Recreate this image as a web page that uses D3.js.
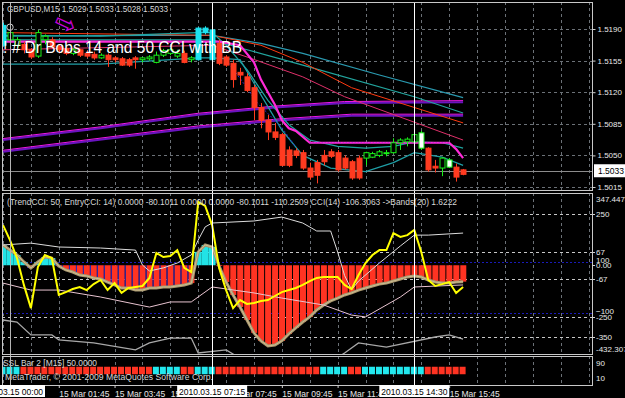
<!DOCTYPE html>
<html><head><meta charset="utf-8">
<script src="https://cdn.jsdelivr.net/npm/d3@7"></script>
<style>
html,body{margin:0;padding:0;background:#000;overflow:hidden;}
svg{display:block;}
text{font-family:"Liberation Sans",Arial,sans-serif;}
</style></head><body>
<svg id="c" width="625" height="398"></svg>
<script>
// ---------------- DATA ----------------
const bars = d3.range(-1, 66); // bar index, 0 = 2010.03.15 00:00, M15
const open  = [1.5172,1.5178,1.5172,1.5173,1.5167,1.5160,1.5178,1.5178,1.5171,1.5168,1.5163,1.5167,1.5163,1.5162,1.5158,1.5161,1.5158,1.5157,1.5156,1.5158,1.5156,1.5157,1.5153,1.5161,1.5163,1.5160,1.5163,1.5156,1.5156,1.5186,1.5189,1.5174,1.5159,1.5152,1.5142,1.5137,1.5125,1.5103,1.5089,1.5076,1.5073,1.5056,1.5055,1.5053,1.5036,1.5042,1.5050,1.5054,1.5053,1.5047,1.5043,1.5047,1.5047,1.5048,1.5050,1.5052,1.5053,1.5064,1.5065,1.5065,1.5058,1.5058,1.5038,1.5036,1.5037,1.5037,1.5034];
const high  = [1.5197,1.5191,1.5181,1.5176,1.5169,1.5189,1.5184,1.5181,1.5173,1.5170,1.5169,1.5168,1.5166,1.5165,1.5163,1.5163,1.5160,1.5159,1.5158,1.5160,1.5159,1.5161,1.5165,1.5168,1.5169,1.5167,1.5166,1.5160,1.5192,1.5193,1.5191,1.5178,1.5161,1.5156,1.5147,1.5141,1.5128,1.5108,1.5095,1.5086,1.5075,1.5060,1.5058,1.5056,1.5042,1.5045,1.5056,1.5057,1.5056,1.5050,1.5045,1.5050,1.5054,1.5054,1.5056,1.5056,1.5069,1.5069,1.5070,1.5075,1.5077,1.5059,1.5045,1.5048,1.5047,1.5041,1.5035];
const low   = [1.5171,1.5173,1.5169,1.5163,1.5157,1.5158,1.5173,1.5168,1.5163,1.5161,1.5161,1.5159,1.5158,1.5156,1.5157,1.5148,1.5153,1.5149,1.5148,1.5146,1.5153,1.5155,1.5152,1.5159,1.5161,1.5158,1.5152,1.5153,1.5155,1.5184,1.5153,1.5150,1.5148,1.5125,1.5128,1.5120,1.5089,1.5080,1.5067,1.5067,1.5038,1.5037,1.5047,1.5034,1.5023,1.5019,1.5039,1.5047,1.5032,1.5034,1.5023,1.5023,1.5039,1.5047,1.5048,1.5049,1.5052,1.5056,1.5060,1.5063,1.5056,1.5032,1.5031,1.5027,1.5036,1.5021,1.5028];
const close = [1.5194,1.5186,1.5178,1.5167,1.5159,1.5186,1.5182,1.5170,1.5167,1.5163,1.5167,1.5161,1.5160,1.5158,1.5161,1.5156,1.5156,1.5150,1.5150,1.5156,1.5158,1.5159,1.5161,1.5166,1.5167,1.5163,1.5153,1.5158,1.5191,1.5191,1.5156,1.5152,1.5150,1.5134,1.5139,1.5122,1.5103,1.5089,1.5076,1.5070,1.5039,1.5039,1.5050,1.5036,1.5026,1.5028,1.5043,1.5049,1.5034,1.5036,1.5025,1.5025,1.5053,1.5052,1.5054,1.5053,1.5064,1.5067,1.5068,1.5073,1.5075,1.5034,1.5036,1.5047,1.5045,1.5026,1.5029];
const cyanBars  = [-1, 27, 28, 29];
const whiteBars = [59, 63];

// price-chart lines: [barIndex, price]
const maTealA  = [[-1,1.5182],[20,1.5183],[29,1.5183],[36,1.5174],[42,1.5163],[53,1.5139],[65,1.5114]];
const maTealB  = [[-1,1.5178],[20,1.5178],[29,1.5178],[34,1.5167],[42,1.5150],[58,1.5115],[65,1.5097]];
const maRedC   = [[-1,1.5186],[29,1.5183],[36,1.5172],[42,1.5153],[49,1.5125],[65,1.5086]];
const maRedD   = [[-1,1.5167],[29,1.5172],[34,1.5159],[42,1.5137],[48,1.5115],[65,1.5067]];
const bbUpper  = [[-1,1.5183],[13,1.5182],[27,1.5186],[29,1.5186],[31,1.5172],[34,1.5145],[37,1.5111],[40,1.5084],[43,1.5067],[47,1.5060],[51,1.5058],[55,1.5060],[58,1.5065],[62,1.5064],[65,1.5058]];
const bbLower  = [[-1,1.5151],[13,1.5151],[27,1.5158],[29,1.5158],[33,1.5156],[36,1.5117],[39,1.5078],[42,1.5050],[46,1.5036],[51,1.5032],[55,1.5042],[58,1.5053],[62,1.5048],[65,1.5039]];
const stepLine = [[-1,1.5176],[30,1.5176],[33,1.5172],[35,1.5153],[36,1.5134],[37,1.5120],[38,1.5106],[39,1.5089],[40,1.5080],[41,1.5077],[43,1.5064],[63,1.5064],[64,1.5057],[65,1.5047]];
const slowMA1  = [[-1,1.5067],[13,1.5080],[27,1.5095],[38,1.5103],[48,1.5108],[65,1.5109]];
const slowMA2  = [[-1,1.5054],[27,1.5081],[39,1.5089],[49,1.5094],[65,1.5094]];
const dotLine  = [[31,1.5156],[33.5,1.5130],[35.5,1.5108],[39,1.5081],[41,1.5059]];

// CCI window
const trendCCI = [99,74,50,16,-13,16,40,35,-4,-23,-33,-48,-52,-62,-67,-82,-96,-111,-111,-121,-121,-111,-111,-106,-106,-101,-96,-87,65,99,89,-4,-82,-145,-204,-267,-330,-369,-394,-389,-369,-335,-306,-277,-252,-218,-194,-174,-160,-145,-135,-121,-111,-101,-92,-87,-77,-67,-57,-52,-57,-72,-82,-87,-87,-82,-80];
const entryCCI = [196,123,35,-97,-209,-9,50,35,-145,-131,-116,-106,-121,-92,-72,-121,-87,-135,-111,-106,-101,-62,60,40,45,74,-13,-33,309,289,196,-13,-121,-209,-170,-189,-184,-174,-170,-150,-131,-121,-111,-96,-77,-62,-57,-57,-57,-96,-116,-48,11,50,74,74,157,138,147,172,65,-72,-101,-92,-82,-135,-106];
const bandUp   = [[-1,99],[3,108],[7,89],[13,84],[18,74],[19,1],[20,-28],[22,-13],[24,11],[26,50],[27,123],[28,187],[29,206],[35,216],[39,235],[42,206],[44,167],[46,167],[47,65],[48,-50],[49,-120],[50,-77],[53,11],[56,94],[58,147],[60,147],[65,157]];
const bandMid  = [[-1,-87],[3,-121],[7,-121],[13,-155],[20,-204],[23,-179],[26,-179],[29,-106],[35,-135],[39,-160],[45,-194],[49,-243],[51,-252],[56,-155],[58,-106],[65,-96]];
const bandLow  = [[-1,-267],[1,-277],[3,-340],[6,-340],[7,-364],[12,-379],[18,-413],[20,-379],[23,-355],[26,-355],[27,-428],[31,-413],[32,-433],[36,-520],[44,-520],[48,-428],[50,-379],[54,-399],[61,-350],[63,-340],[65,-360]];
const cciLevels = [250, 67, -67, -250, -350];
const cci2Levels = [100, -100];
const cciTickValues = [347.4474, 250, 67, 0, -67, -250, -350, -432.3077];
const cciTickText   = ['347.4474','250','67','0.00','-67','-250','-350','-432.3077'];

// SSL bar: 1 = up (cyan), 0 = down (red)
const sslState = [1,1,1,0,0,0,0,0,0,0,0,0,0,0,0,0,0,0,0,0,0,0,1,1,1,1,0,0,1,1,1,0,0,0,0,0,0,0,0,0,0,0,0,0,0,0,1,1,1,1,0,0,1,1,1,1,1,1,1,1,1,0,0,0,0,0,0];
const sslTicks = [90, 10];

// axes
const priceTicks = [1.5190, 1.5155, 1.5120, 1.5085, 1.5050, 1.5015];
const lastPrice = 1.5033;
const timeTickBars   = [7, 15, 23, 31, 39, 47, 55, 63];
const timeTickLabels = ['15 Mar 01:45','15 Mar 03:45','15 Mar 05:45','15 Mar 07:45','15 Mar 09:45','15 Mar 11:45','15 Mar 13:45','15 Mar 15:45'];
const vLineBars   = [0, 29, 58];
const vLineLabels = ['2010.03.15 00:00','2010.03.15 07:15','2010.03.15 14:30'];
const vLineColors = ['#b4b4b4','#ffffff','#ffffff'];
const gridBars = d3.range(-1, 84, 4);

// ---------------- LAYOUT ----------------
const L = 2, R = 592;
const P = {main:[2,190], cci:[193,354], ssl:[356,385]};
const x  = d3.scaleLinear().domain([0,58]).range([10,414.3]);
const yP = d3.scaleLinear().domain([1.5190,1.5015]).range([29,187]);
const yC = d3.scaleLinear().domain([250,-350]).range([214,337]);
const yC2= d3.scaleLinear().domain([100,-100]).range([262,313]);
const yS = d3.scaleLinear().domain([90,10]).range([363,378]);

const svg = d3.select('#c');
svg.append('rect').attr('width',625).attr('height',398).attr('fill','#000');
const defs = svg.append('defs');
Object.entries(P).forEach(([k,[a,b]])=>{
  defs.append('clipPath').attr('id','clip-'+k).append('rect')
    .attr('x',L).attr('y',a).attr('width',R-L).attr('height',b-a);
});
const gMain = svg.append('g').attr('clip-path','url(#clip-main)');
const gCci  = svg.append('g').attr('clip-path','url(#clip-cci)');
const gSsl  = svg.append('g').attr('clip-path','url(#clip-ssl)');

const gridCol = '#6b7177';
[[gMain,P.main],[gCci,P.cci],[gSsl,P.ssl]].forEach(([g,[a,b]])=>{
  g.selectAll(null).data(gridBars).join('line')
    .attr('x1',d=>Math.round(x(d))+0.5).attr('x2',d=>Math.round(x(d))+0.5)
    .attr('y1',a).attr('y2',b).attr('stroke',gridCol).attr('stroke-dasharray','3,3');
});
gMain.selectAll(null).data(priceTicks).join('line')
  .attr('x1',L).attr('x2',R).attr('y1',d=>Math.round(yP(d))+0.5).attr('y2',d=>Math.round(yP(d))+0.5)
  .attr('stroke',gridCol).attr('stroke-dasharray','3,3');
gMain.append('line').attr('x1',L).attr('x2',R)
  .attr('y1',Math.round(yP(lastPrice))+0.5).attr('y2',Math.round(yP(lastPrice))+0.5)
  .attr('stroke','#8c8c8c');

// ---- main chart lines
const lp = d3.line().x(d=>x(d[0])).y(d=>yP(d[1]));
function pl(data,color,w,extra){
  const p = gMain.append('path').attr('d',lp(data)).attr('fill','none')
    .attr('stroke',color).attr('stroke-width',w);
  if(extra) extra(p);
  return p;
}
pl(slowMA1,'#6a14c0',2);
pl(slowMA1,'#ee18e8',1,p=>p.attr('transform','translate(0,-1.5)'));
pl(slowMA2,'#6a14c0',2);
pl(slowMA2,'#ee18e8',1,p=>p.attr('transform','translate(0,-1.5)'));
pl(maTealA,'#2a9ab0',1.2);
pl(maTealB,'#22a59e',1.2);
pl(maRedC,'#ff3a10',1);
pl(maRedD,'#e0306a',1);
pl(bbUpper,'#1fa5a0',1.2);
pl(bbLower,'#1f9fa6',1.2);
pl(dotLine,'#2a2ad0',1,p=>p.attr('stroke-dasharray','2,2'));
pl(stepLine,'#ff2ad8',2.2);
pl(stepLine.filter(d=>d[0]>=43 && d[0]<=63),'#9a30e0',1,p=>p.attr('stroke-dasharray','1,2'));

// ---- candles
const cData = bars.map((b,k)=>({b,o:open[k],h:high[k],l:low[k],c:close[k]}));
function cColor(d){
  if(cyanBars.includes(d.b)) return '#1ce3f0';
  if(d.c>=d.o) return '#19f019';
  return '#ff3b20';
}
const cg = gMain.append('g');
cg.selectAll('line').data(cData).join('line')
  .attr('x1',d=>Math.round(x(d.b))+0.5).attr('x2',d=>Math.round(x(d.b))+0.5)
  .attr('y1',d=>yP(d.h)).attr('y2',d=>yP(d.l))
  .attr('stroke',cColor);
cg.selectAll('rect').data(cData).join('rect')
  .attr('x',d=>Math.round(x(d.b))-2)
  .attr('y',d=>Math.min(yP(d.o),yP(d.c)))
  .attr('width',5)
  .attr('height',d=>Math.max(1,Math.abs(yP(d.o)-yP(d.c))))
  .attr('fill',d=>{
    if(cyanBars.includes(d.b)) return '#1ce3f0';
    if(whiteBars.includes(d.b)) return '#ffffff';
    return d.c>=d.o ? '#000' : '#ff3b20';
  })
  .attr('stroke',d=> whiteBars.includes(d.b) ? '#19f019' : cColor(d))
  .attr('stroke-width',1);

// symbols
gMain.append('circle').attr('cx',x(0)).attr('cy',yP(1.5192)).attr('r',3.2)
  .attr('fill','none').attr('stroke','#d0d0d0').attr('stroke-width',1);
gMain.append('text').attr('x',54).attr('y',32).attr('font-size',26)
  .attr('font-family','DejaVu Sans').attr('fill','#c400d8')
  .attr('transform','rotate(25,65,24)').text('\u21E8');

// header texts main
svg.append('text').attr('x',7).attr('y',11.5).attr('font-size',8.5).attr('fill','#d8d8d8')
  .attr('textLength',161).attr('lengthAdjust','spacingAndGlyphs')
  .text('GBPUSD,M15  1.5029 1.5033 1.5028 1.5033');
svg.append('text').attr('x',3).attr('y',53).attr('font-size',16).attr('fill','#ffffff')
  .attr('textLength',239).attr('lengthAdjust','spacingAndGlyphs')
  .text('! # Dr Bobs 14 and 50 CCI with BB');

// ---- CCI window
gCci.selectAll(null).data(cciLevels).join('line')
  .attr('x1',L).attr('x2',R).attr('y1',d=>Math.round(yC(d))+0.5).attr('y2',d=>Math.round(yC(d))+0.5)
  .attr('stroke','#c8c8c8').attr('stroke-dasharray','3,3');
gCci.selectAll(null).data(cci2Levels).join('line')
  .attr('x1',L).attr('x2',R).attr('y1',d=>Math.round(yC2(d))+0.5).attr('y2',d=>Math.round(yC2(d))+0.5)
  .attr('stroke','#1a1ab8').attr('stroke-dasharray','2,2');
const hData = bars.map((b,k)=>({b,v:trendCCI[k]}));
gCci.selectAll('rect.h').data(hData).join('rect')
  .attr('x',d=> d.v>0 ? x(d.b)-3.5 : x(d.b)-2.8)
  .attr('width',d=> d.v>0 ? 7 : 6)
  .attr('y',d=>Math.min(yC(0),yC(d.v)))
  .attr('height',d=>Math.abs(yC(d.v)-yC(0)))
  .attr('fill',d=> d.v>0 ? '#22e3e6' : '#ff3322');
gCci.selectAll('line.sep').data(hData.filter(d=>d.v<0 && d.b<30)).join('line')
  .attr('x1',d=>x(d.b)-3.3).attr('x2',d=>x(d.b)-3.3)
  .attr('y1',yC(0)).attr('y2',d=>yC(d.v)).attr('stroke','#2b2bc8').attr('stroke-width',1);
const lc = d3.line().x((d,k)=>x(bars[k])).y(d=>yC(d));
gCci.append('path').attr('d',lc(trendCCI)).attr('fill','none').attr('stroke','#a8976e').attr('stroke-width',3);
gCci.append('path').attr('d',lc(trendCCI)).attr('fill','none').attr('stroke','#cdbd92').attr('stroke-width',1);
const lk = d3.line().x(d=>x(d[0])).y(d=>yC(d[1]));
gCci.append('path').attr('d',lk(bandUp)).attr('fill','none').attr('stroke','#dcdcdc').attr('stroke-width',1);
gCci.append('path').attr('d',lk(bandMid)).attr('fill','none').attr('stroke','#e8c4d0').attr('stroke-width',1);
gCci.append('path').attr('d',lk(bandLow)).attr('fill','none').attr('stroke','#a8a8a8').attr('stroke-width',1.3);
gCci.append('path').attr('d',lc(entryCCI)).attr('fill','none').attr('stroke','#ffff00').attr('stroke-width',2);
svg.append('text').attr('x',7).attr('y',205).attr('font-size',8.5).attr('fill','#d8d8d8')
  .attr('textLength',450).attr('lengthAdjust','spacingAndGlyphs')
  .text('(TrendCCI: 50, EntryCCI: 14)  0.0000 -80.1011 0.0000 0.0000 -80.1011 -110.2509  CCI(14) -106.3063  ->Bands(20) 1.6222');

// ---- SSL window
const sData = bars.map((b,k)=>({b,s:sslState[k]}));
gSsl.selectAll('rect').data(sData).join('rect')
  .attr('x',d=>x(d.b)-3.5).attr('width',6)
  .attr('y',yS(70)).attr('height',yS(30)-yS(70))
  .attr('fill',d=>d.s ? '#22e8ee' : '#ff3322');
svg.append('text').attr('x',3).attr('y',366).attr('font-size',8.5).attr('fill','#d8d8d8')
  .attr('textLength',94).attr('lengthAdjust','spacingAndGlyphs')
  .text('SSL Bar 2 [M15] 50.0000');
svg.append('text').attr('x',5).attr('y',380).attr('font-size',8.5).attr('fill','#d8d8d8')
  .attr('textLength',208).attr('lengthAdjust','spacingAndGlyphs')
  .text('MetaTrader, \u00A9 2001-2009 MetaQuotes Software Corp.');

// ---- vertical line objects
svg.selectAll('line.vl').data(vLineBars).join('line')
  .attr('x1',d=>Math.round(x(d))+0.5).attr('x2',d=>Math.round(x(d))+0.5)
  .attr('y1',P.main[0]).attr('y2',P.ssl[1])
  .attr('stroke',(d,k)=>vLineColors[k]).attr('stroke-width',1);

// ---- panel frames
Object.values(P).forEach(([a,b])=>{
  svg.append('rect').attr('x',L+0.5).attr('y',a+0.5).attr('width',R-L).attr('height',b-a)
    .attr('fill','none').attr('stroke','#c8c8c8').attr('stroke-width',1);
});

// ---- right axes
const axP = d3.axisRight(yP).tickValues(priceTicks).tickFormat(d3.format('.4f')).tickSize(3);
const gA = svg.append('g').attr('transform',`translate(${R+0.5},0)`).call(axP);
gA.select('.domain').remove();
gA.selectAll('line').attr('stroke','#d0d0d0');
gA.selectAll('text').attr('fill','#e8e8e8').attr('font-size',8).attr('x',5).attr('font-family','"Liberation Sans",Arial,sans-serif');
svg.append('rect').attr('x',R+2).attr('y',yP(lastPrice)-6.5).attr('width',31).attr('height',13).attr('fill','#ffffff');
svg.append('text').attr('x',R+6).attr('y',yP(lastPrice)+3).attr('font-size',8.5).attr('fill','#000').text(d3.format('.4f')(lastPrice));

const gCL = svg.append('g');
gCL.selectAll('text.a').data(cciTickValues).join('text')
  .attr('x',R+4).attr('y',d=>Math.min(Math.max(yC(d),199),349)+3)
  .attr('font-size',8).attr('fill','#e8e8e8').text((d,k)=>cciTickText[k]);
gCL.selectAll('line.a').data(cciTickValues.slice(1,-1)).join('line')
  .attr('x1',R).attr('x2',R+3).attr('y1',d=>Math.round(yC(d))+0.5).attr('y2',d=>Math.round(yC(d))+0.5).attr('stroke','#d0d0d0');
gCL.selectAll('text.b').data(cci2Levels).join('text')
  .attr('x',R+4).attr('y',d=>yC2(d)+1).attr('font-size',8).attr('fill','#e8e8e8').text(d=>d3.format('d')(d));
svg.selectAll('text.s').data(sslTicks).join('text')
  .attr('x',R+4).attr('y',d=>yS(d)+3).attr('font-size',8).attr('fill','#e8e8e8').text(d=>d);

// ---- time axis
const axT = d3.axisBottom(x).tickValues(timeTickBars).tickFormat((d,k)=>timeTickLabels[k]).tickSize(3);
const gT = svg.append('g').attr('transform',`translate(0,${P.ssl[1]})`).call(axT);
gT.select('.domain').remove();
gT.selectAll('line').attr('stroke','#d0d0d0');
gT.selectAll('text').attr('fill','#e8e8e8').attr('font-size',8.5).attr('text-anchor','start')
  .attr('x',0).attr('y',6).attr('dy','0.71em').attr('font-family','"Liberation Sans",Arial,sans-serif');
const gB = svg.append('g');
vLineBars.forEach((b,k)=>{
  const cx = x(b);
  gB.append('rect').attr('x',cx-35).attr('y',385).attr('width',70).attr('height',12).attr('fill','#ffffff');
  gB.append('text').attr('x',cx).attr('y',394.5).attr('text-anchor','middle').attr('font-size',8.5).attr('fill','#000').text(vLineLabels[k]);
});
</script>
</body></html>
